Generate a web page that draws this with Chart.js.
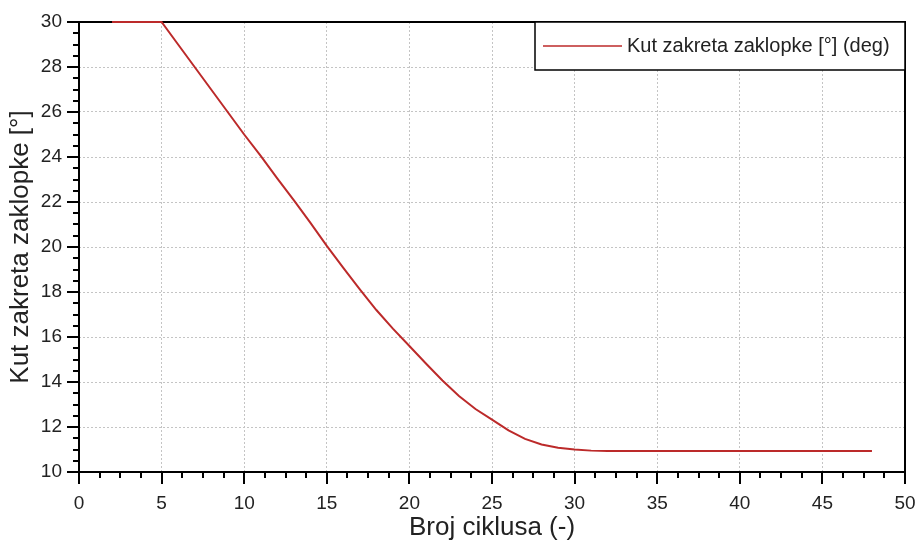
<!DOCTYPE html>
<html>
<head>
<meta charset="utf-8">
<script src="https://cdn.jsdelivr.net/npm/chart.js@4"></script>
<style>
  body { margin: 0; background: #fff; }
  #wrap { width: 915px; height: 544px; position: relative; }
</style>
</head>
<body>
<div id="wrap"><canvas id="graf"></canvas></div>
<script>
// podaci ocitani sa slike
const brojCiklusa = [2, 3, 4, 5, 6, 7, 8, 9, 10, 11, 12, 13, 14, 15, 16, 17, 18, 19, 20,
  21, 22, 23, 24, 25, 26, 27, 28, 29, 30, 31, 32, 34, 36, 38, 40, 42, 44, 46, 48];
const kutZaklopke = [30, 30, 30, 30, 29, 28, 27, 26, 25, 24.05, 23.05, 22.08, 21.08, 20.05, 19.07, 18.12, 17.2, 16.37, 15.6,
  14.82, 14.07, 13.38, 12.8, 12.33, 11.85, 11.47, 11.22, 11.08, 11.0, 10.95, 10.93, 10.93, 10.93, 10.93, 10.93, 10.93, 10.93, 10.93, 10.93];
const xTicks = [0, 5, 10, 15, 20, 25, 30, 35, 40, 45, 50];
const yTicks = [10, 12, 14, 16, 18, 20, 22, 24, 26, 28, 30];

const nazivSerije = "Kut zakreta zaklopke [°] (deg)";
const bojaLinije = "#bc2a2a";
const font = "'Liberation Sans', Arial, sans-serif";

// okvir, crtice (glavne i sporedne) i legenda
const okvirPlugin = {
  id: "okvir",
  beforeDatasetsDraw(chart) {
    const { ctx, chartArea: a, scales } = chart;
    const sx = scales.x, sy = scales.y;
    ctx.save();
    ctx.strokeStyle = "#000";
    ctx.lineWidth = 2;
    ctx.strokeRect(a.left, a.top, a.right - a.left, a.bottom - a.top);

    ctx.lineWidth = 2;
    ctx.beginPath();
    for (let v = 0; v <= 50.001; v += 1.25) {
      const px = Math.round(sx.getPixelForValue(v));
      const major = Math.abs(v % 5) < 0.001;
      ctx.moveTo(px, a.bottom);
      ctx.lineTo(px, a.bottom + (major ? 12 : 6));
    }
    for (let v = 10; v <= 30.001; v += 0.5) {
      const py = Math.round(sy.getPixelForValue(v));
      const major = Math.abs(v % 2) < 0.001;
      ctx.moveTo(a.left, py);
      ctx.lineTo(a.left - (major ? 12 : 6), py);
    }
    ctx.stroke();
    ctx.restore();
  },
  afterDraw(chart) {
    const { ctx, chartArea: a } = chart;
    const w = 370, h = 48;
    const x0 = a.right - w, y0 = a.top;
    ctx.save();
    ctx.fillStyle = "#fff";
    ctx.fillRect(x0, y0, w, h);
    ctx.strokeStyle = "#000";
    ctx.lineWidth = 1.5;
    ctx.strokeRect(x0, y0, w, h);
    const ym = y0 + h / 2;
    ctx.strokeStyle = bojaLinije;
    ctx.lineWidth = 1.5;
    ctx.beginPath();
    ctx.moveTo(x0 + 8, ym);
    ctx.lineTo(x0 + 87, ym);
    ctx.stroke();
    ctx.fillStyle = "#222";
    ctx.font = "20px " + font;
    ctx.textBaseline = "middle";
    ctx.fillText(chart.data.datasets[0].label, x0 + 92, ym);
    ctx.restore();
  }
};

const ctx = document.getElementById("graf").getContext("2d");
new Chart(ctx, {
  type: "line",
  data: {
    datasets: [
      {
        label: nazivSerije,
        data: brojCiklusa.map((x, i) => ({ x: x, y: kutZaklopke[i] })),
        borderColor: bojaLinije,
        borderWidth: 2,
        pointRadius: 0,
        tension: 0,
        clip: 4,
      },
    ],
  },
  options: {
    responsive: true,
    maintainAspectRatio: false,
    animation: false,
    events: [],
    layout: { padding: { top: 22, right: 10, left: 0, bottom: 0 } },
    plugins: {
      legend: { display: false },
      tooltip: { enabled: false },
    },
    scales: {
      x: {
        type: "linear",
        min: 0,
        max: 50,
        afterBuildTicks: (s) => { s.ticks = xTicks.map((v) => ({ value: v })); },
        afterFit: (s) => {
          s.height = 72;
          s.paddingLeft = 0;
          s.paddingRight = 0;
        },
        grid: { color: "#c4c4c4", lineWidth: 1, drawTicks: false },
        border: { display: false, dash: [2, 2] },
        ticks: {
          color: "#222",
          padding: 20,
          maxRotation: 0,
          font: { family: font, size: 19 },
        },
        title: {
          display: true,
          text: "Broj ciklusa (-)",
          color: "#222",
          font: { family: font, size: 26 },
          padding: { top: 0, bottom: 1 },
        },
      },
      y: {
        min: 10,
        max: 30,
        afterBuildTicks: (s) => { s.ticks = yTicks.map((v) => ({ value: v })); },
        afterFit: (s) => {
          s.width = 79;
          s.paddingTop = 0;
          s.paddingBottom = 0;
        },
        grid: { color: "#c4c4c4", lineWidth: 1, drawTicks: false },
        border: { display: false, dash: [2, 2] },
        ticks: {
          color: "#222",
          padding: 17,
          font: { family: font, size: 19 },
        },
        title: {
          display: true,
          text: "Kut zakreta zaklopke [°]",
          color: "#222",
          font: { family: font, size: 26 },
          padding: { top: 5, bottom: 0 },
        },
      },
    },
  },
  plugins: [okvirPlugin],
});
</script>
</body>
</html>
